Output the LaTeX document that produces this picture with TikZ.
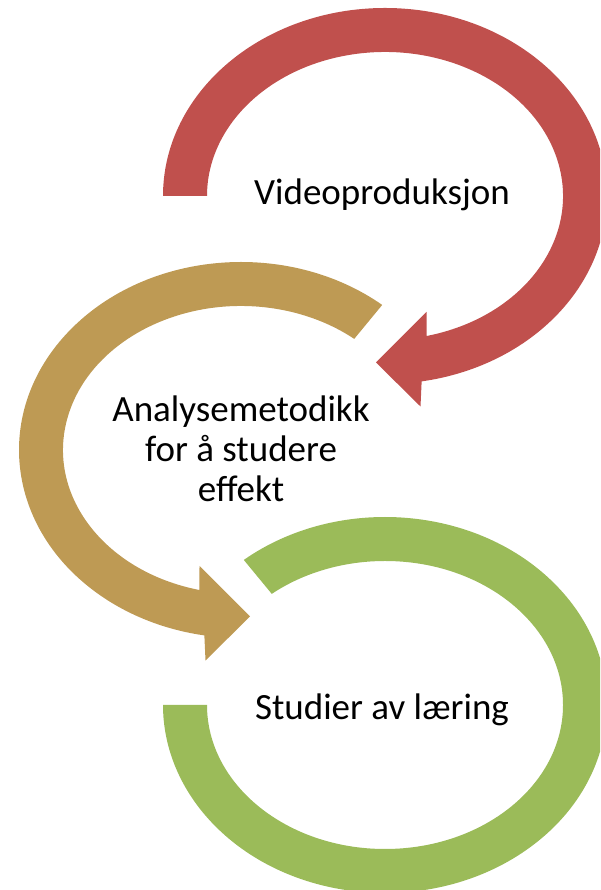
\documentclass[tikz,border=0pt]{standalone}
\usepackage{fontspec}
\setmainfont{Carlito}
\usepackage{tikz}

\definecolor{arrowred}{HTML}{C0504D}
\definecolor{arrowgold}{HTML}{BE9A54}
\definecolor{arrowgreen}{HTML}{9BBB59}

\begin{document}
\begin{tikzpicture}[x=1pt, y=1pt,
    ring text/.style={font=\fontsize{37}{40}\selectfont, align=center, inner sep=0pt, anchor=base}]
   \useasboundingbox (0,0) rectangle (600,890);
   \clip (0,0) rectangle (600,890);

   % Centres of the three rings
   \coordinate (c1) at (385,694);
   \coordinate (c2) at (241,440);
   \coordinate (c3) at (385,185);

   % First ring, arrow turns back to the left
   \begin{scope}[shift={(c1)}]
     \fill[arrowred] (180:222 and 188)
       arc[start angle=180, end angle=-80.5, x radius=222, y radius=188]
       -- (35.5,-210.5) -- (-9,-166.5) -- (41.5,-116)
       -- (-76.5:178 and 144)
       arc[start angle=-76.5, end angle=180, x radius=178, y radius=144] -- cycle;
   \end{scope}

   % Second ring, mirrored, arrow turns to the right
   \begin{scope}[shift={(c2)}, xscale=-1]
     \fill[arrowgold] (129.5:222 and 188)
       arc[start angle=129.5, end angle=-80.5, x radius=222, y radius=188]
       -- (35.5,-210.5) -- (-9,-166.5) -- (41.5,-116)
       -- (-76.5:178 and 144)
       arc[start angle=-76.5, end angle=129.5, x radius=178, y radius=144] -- cycle;
   \end{scope}

   % Last ring, no arrow head
   \begin{scope}[shift={(c3)}]
     \fill[arrowgreen] (129.5:222 and 188)
       arc[start angle=129.5, end angle=-180, x radius=222, y radius=188]
       -- (-180:178 and 144)
       arc[start angle=-180, end angle=129.5, x radius=178, y radius=144] -- cycle;
   \end{scope}

   % Texts (base = last line)
   \node[ring text] (video) at (382,685) {Videoproduksjon};
   \node[ring text] (analyse) at (241,388) {Analysemetodikk\\for å studere\\effekt};
   \node[ring text] (studier) at (382,170) {Studier av læring};
\end{tikzpicture}
\end{document}
